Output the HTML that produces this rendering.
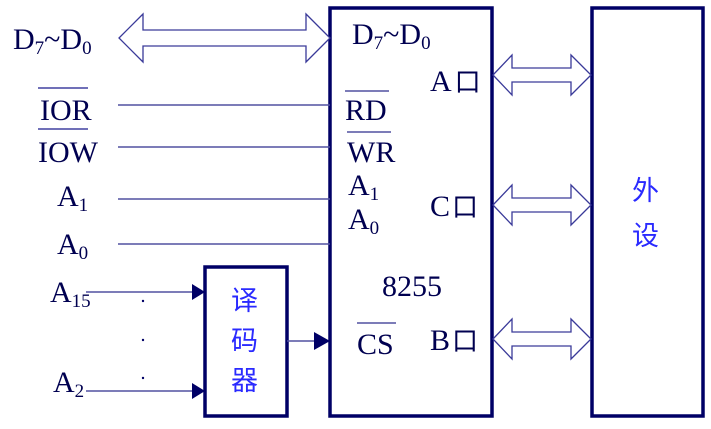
<!DOCTYPE html>
<html><head><meta charset="utf-8"><style>
body{margin:0;background:#fff}
svg text{font-family:"Liberation Serif","Noto Serif CJK SC",serif;fill:#000050}
.cn{font-family:"Noto Sans CJK SC","WenQuanYi Zen Hei",sans-serif;fill:#2a2aff}
</style></head><body>
<svg width="711" height="424" viewBox="0 0 711 424" xmlns="http://www.w3.org/2000/svg">
<g fill="none" stroke="#000066" stroke-width="3.5">
<rect x="330" y="8" width="162" height="408"/>
<rect x="592" y="8" width="111" height="408"/>
<rect x="205" y="267" width="82" height="149"/>
</g>
<g fill="#fff" stroke="#3a3a99" stroke-width="1.3">
<polygon points="119,38 143,14 143,30 306,30 306,14 330,38 306,62 306,46 143,46 143,62"/>
<polygon points="493,75 512,55 512,68 571,68 571,55 591,75 571,95 571,82 512,82 512,95"/>
<polygon points="493,205 512,185 512,198 571,198 571,185 591,205 571,225 571,212 512,212 512,225"/>
<polygon points="493,339 512,319 512,332 571,332 571,319 591,339 571,359 571,346 512,346 512,359"/>
</g>
<g stroke="#5050a0" stroke-width="1.5">
<line x1="118" y1="105" x2="330" y2="105"/>
<line x1="118" y1="147" x2="330" y2="147"/>
<line x1="118" y1="199" x2="330" y2="199"/>
<line x1="118" y1="244" x2="330" y2="244"/>
<line x1="86" y1="292" x2="192" y2="292"/>
<line x1="86" y1="391" x2="192" y2="391"/>
<line x1="287" y1="341" x2="316" y2="341"/>
<line x1="38" y1="88" x2="88" y2="88" stroke="#7070b8" stroke-width="2"/>
<line x1="38" y1="129" x2="88" y2="129" stroke="#7070b8" stroke-width="2"/>
<line x1="345" y1="91" x2="389" y2="91"/>
<line x1="347" y1="132" x2="391" y2="132"/>
<line x1="357" y1="323" x2="396" y2="323"/>
</g>
<g fill="#000066">
<polygon points="192,284 205,292 192,300"/>
<polygon points="192,383 205,391 192,399"/>
<polygon points="314,332 330,341 314,350"/>
<circle cx="143" cy="301" r="1.2"/><circle cx="143" cy="340" r="1.2"/><circle cx="143" cy="378" r="1.2"/>
</g>
<g font-size="30">
<text x="13" y="49">D<tspan font-size="19" dy="5">7</tspan><tspan dy="-5">~D</tspan><tspan font-size="19" dy="5">0</tspan></text>
<text x="40" y="120">IOR</text>
<text x="38" y="162">IOW</text>
<text x="57" y="206">A<tspan font-size="19" dy="5">1</tspan></text>
<text x="57" y="254">A<tspan font-size="19" dy="5">0</tspan></text>
<text x="50" y="302">A<tspan font-size="19" dy="5">15</tspan></text>
<text x="53" y="392">A<tspan font-size="19" dy="5">2</tspan></text>
<text x="352" y="44">D<tspan font-size="19" dy="5">7</tspan><tspan dy="-5">~D</tspan><tspan font-size="19" dy="5">0</tspan></text>
<text x="430" y="91">A<tspan class="cn" style="fill:#000050" font-size="26" dx="3">口</tspan></text>
<text x="345" y="120">RD</text>
<text x="347" y="162">WR</text>
<text x="348" y="195">A<tspan font-size="19" dy="5">1</tspan></text>
<text x="348" y="229">A<tspan font-size="19" dy="5">0</tspan></text>
<text x="430" y="216">C<tspan class="cn" style="fill:#000050" font-size="26" dx="2">口</tspan></text>
<text x="382" y="296">8255</text>
<text x="357" y="354">CS</text>
<text x="430" y="350">B<tspan class="cn" style="fill:#000050" font-size="26" dx="2">口</tspan></text>
</g>
<g font-size="27" class="cn">
<text class="cn" x="632" y="200">外</text>
<text class="cn" x="632" y="245">设</text>
<text class="cn" x="231" y="310">译</text>
<text class="cn" x="231" y="350">码</text>
<text class="cn" x="231" y="390">器</text>
</g>
</svg>
</body></html>
